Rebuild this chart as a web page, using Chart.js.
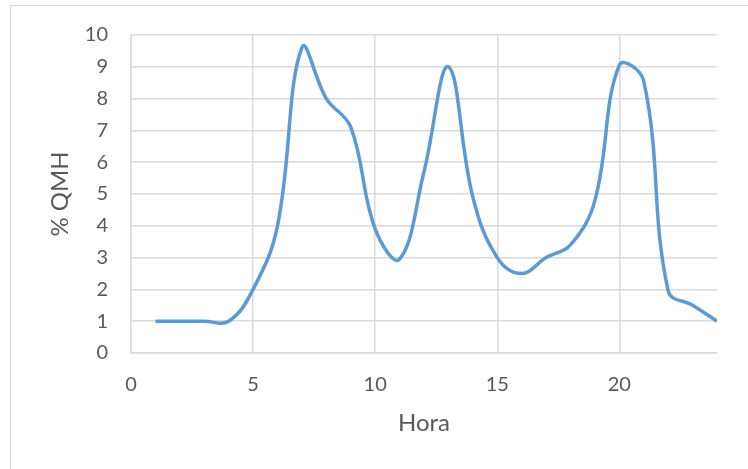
<!DOCTYPE html>
<html>
<head>
<meta charset="utf-8">
<script src="https://cdn.jsdelivr.net/npm/chart.js@4"></script>
<style>
  html, body { margin: 0; padding: 0; background: white; }
  #wrap { width: 748px; height: 469px; }
</style>
</head>
<body>
<div id="wrap"><canvas id="chart" width="748" height="469"></canvas></div>
<script>
// hourly demand pattern, % of QMH
const hours = [1, 2, 3, 4, 5, 6, 7, 8, 9, 10, 11, 12, 13, 14, 15, 16, 17, 18, 19, 20, 21, 22, 23, 24];
const qmh = [1, 1, 1, 1, 2, 4, 9.6, 8, 7.1, 3.9, 2.95, 5.7, 9, 4.9, 3, 2.5, 3, 3.4, 4.8, 9.05, 8.55, 1.95, 1.5, 1];
const xTicks = [0, 5, 10, 15, 20];

const textColor = '#595959';
const gridColor = '#d9d9d9';

// outer chart frame (only top and left edges show in the picture)
const framePlugin = {
  id: 'frame',
  beforeDraw: (chart) => {
    const {ctx} = chart;
    ctx.save();
    ctx.strokeStyle = gridColor;
    ctx.lineWidth = 1;
    ctx.beginPath();
    ctx.moveTo(10.5, chart.height);
    ctx.lineTo(10.5, 5.5);
    ctx.lineTo(chart.width, 5.5);
    ctx.stroke();
    ctx.restore();
  }
};

Chart.defaults.font.family = "Lato, 'Open Sans', sans-serif";
Chart.defaults.font.size = 20;
Chart.defaults.color = textColor;

new Chart(document.getElementById('chart'), {
  type: 'line',
  data: {
    datasets: [
      {
        label: '% QMH',
        data: hours.map((h, i) => ({x: h, y: qmh[i]})),
        borderColor: '#5b9bd5',
        backgroundColor: 'transparent',
        borderWidth: 3.5,
        pointRadius: 0,
        tension: 0.4,
      }
    ]
  },
  options: {
    responsive: false,
    animation: false,
    layout: {
      padding: {left: 10, right: 31, top: 34, bottom: 29}
    },
    plugins: {
      legend: { display: false },
      tooltip: { enabled: false },
    },
    scales: {
      x: {
        type: 'linear',
        min: 0,
        max: 24,
        afterBuildTicks: (scale) => {
          scale.ticks = xTicks.map(v => ({value: v}));
        },
        afterFit: (scale) => { scale.height = 87; },
        ticks: { padding: 20, color: textColor },
        grid: { color: gridColor, drawTicks: false, lineWidth: 1.5 },
        border: { color: gridColor, width: 1.5 },
        title: {
          display: true,
          text: 'Hora',
          color: textColor,
          font: { size: 24 },
          padding: { top: 4, bottom: 2 },
        }
      },
      y: {
        min: 0,
        max: 10,
        ticks: { stepSize: 1, padding: 23, color: textColor },
        afterFit: (scale) => { scale.width = 121; },
        grid: { color: gridColor, drawTicks: false, lineWidth: 1.5 },
        border: { color: gridColor, width: 1.5 },
        title: {
          display: true,
          text: '% QMH',
          color: textColor,
          font: { size: 24 },
          padding: { top: 36, bottom: 4 },
        }
      }
    }
  },
  plugins: [ framePlugin ]
});
</script>
</body>
</html>
